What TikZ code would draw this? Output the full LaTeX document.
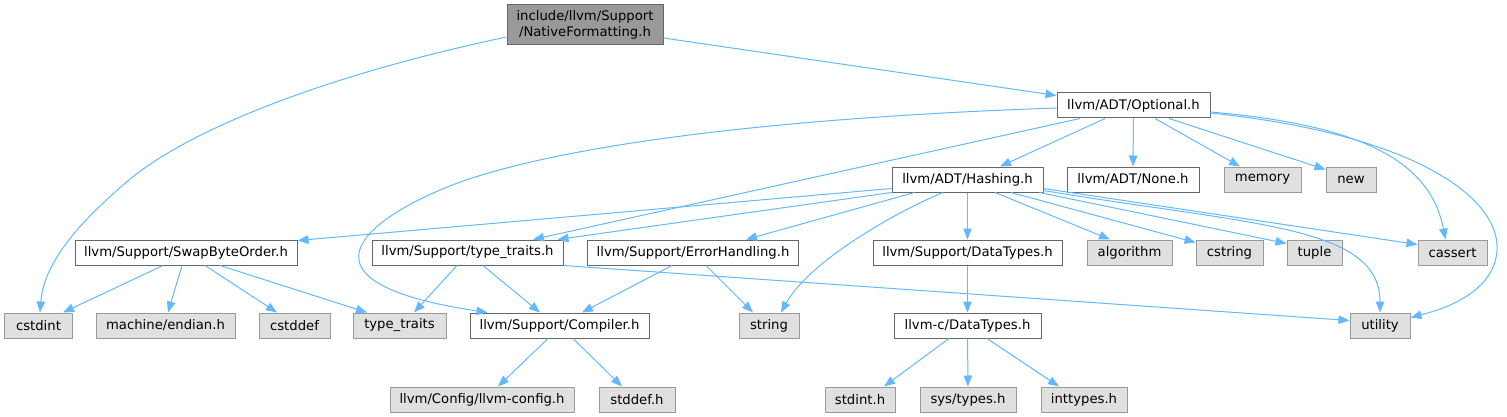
\documentclass[tikz,border=0pt]{standalone}
\usepackage{fontspec}
\setmainfont{DejaVu Sans}
\usetikzlibrary{arrows.meta}

\begin{document}
\begin{tikzpicture}[x=1pt, y=-1pt,
    font=\fontsize{13.2}{15.5}\selectfont,
    every node/.style={inner sep=0pt, minimum height=25pt},
    mainnode/.style={draw=boxgray, fill=mainfill, line width=1pt},
    usernode/.style={draw=boxgray, fill=white, line width=1pt},
    sysnode/.style={draw=sysgray, fill=sysfill, line width=1pt},
    incl/.style={draw=edgeblue, line width=1pt, -{Triangle[length=11pt,width=8.5pt]}}]

    % 色の設定
    \definecolor{edgeblue}{HTML}{63B8FF}
    \definecolor{boxgray}{HTML}{666666}
    \definecolor{mainfill}{HTML}{999999}
    \definecolor{sysgray}{HTML}{999999}
    \definecolor{sysfill}{HTML}{E0E0E0}
    \useasboundingbox (0,0) rectangle (1507,417);

    % ヘッダ（上から順に）
    \node[mainnode, minimum width=156pt, minimum height=40pt, align=center] (nf) at (585,25) {include/llvm/Support\\/NativeFormatting.h};
    \node[usernode, minimum width=153pt] (opt) at (1133.5,105.5) {llvm/ADT/Optional.h};

    \node[usernode, minimum width=151pt] (hash) at (967.5,179.5) {llvm/ADT/Hashing.h};
    \node[usernode, minimum width=132pt] (none) at (1133,179.5) {llvm/ADT/None.h};
    \node[sysnode, minimum width=77pt] (memory) at (1262.5,179.5) {memory};
    \node[sysnode, minimum width=50pt] (new) at (1351,179.5) {new};

    \node[usernode, minimum width=222pt] (swap) at (186,252.5) {llvm/Support/SwapByteOrder.h};
    \node[usernode, minimum width=191pt] (tt) at (467.5,252.5) {llvm/Support/type\_traits.h};
    \node[usernode, minimum width=211pt] (err) at (693,252.5) {llvm/Support/ErrorHandling.h};
    \node[usernode, minimum width=189pt] (sdt) at (967.5,252.5) {llvm/Support/DataTypes.h};
    \node[sysnode, minimum width=85pt] (algorithm) at (1129.5,252.5) {algorithm};
    \node[sysnode, minimum width=67pt] (cstring) at (1229.5,252.5) {cstring};
    \node[sysnode, minimum width=55pt] (tuple) at (1314.5,252.5) {tuple};
    \node[sysnode, minimum width=69pt] (cassert) at (1452.5,252.5) {cassert};

    \node[sysnode, minimum width=68pt] (cstdint) at (38.5,325.5) {cstdint};
    \node[sysnode, minimum width=139pt] (endian) at (165.5,325.5) {machine/endian.h};
    \node[sysnode, minimum width=71pt] (cstddef) at (294.5,325.5) {cstddef};
    \node[sysnode, minimum width=93pt] (typetraits) at (399.5,325.5) {type\_traits};
    \node[usernode, minimum width=179pt] (compiler) at (559.5,325.5) {llvm/Support/Compiler.h};
    \node[sysnode, minimum width=60pt] (string) at (769,325.5) {string};
    \node[usernode, minimum width=147pt] (cdt) at (967.5,325.5) {llvm-c/DataTypes.h};
    \node[sysnode, minimum width=60pt] (utility) at (1380,325.5) {utility};

    \node[sysnode, minimum width=184pt] (config) at (482,399.5) {llvm/Config/llvm-config.h};
    \node[sysnode, minimum width=76pt] (stddef) at (637,399.5) {stddef.h};
    \node[sysnode, minimum width=70pt] (stdint) at (860,399.5) {stdint.h};
    \node[sysnode, minimum width=96pt] (systypes) at (968,399.5) {sys/types.h};
    \node[sysnode, minimum width=86pt] (inttypes) at (1084,399.5) {inttypes.h};

    % NativeFormatting.h からの矢印
    \draw[incl] ([yshift=-12pt]nf.west) .. controls (340,72) and (195,125) .. (129,180)
        .. controls (84,218) and (44,260) .. ([xshift=1.5pt]cstdint.north);
    \draw[incl] ([yshift=-13pt]nf.east) -- ([yshift=-3pt]opt.north west);

    % Optional.h からの矢印
    \draw[incl] ([yshift=-2.5pt]opt.west) .. controls (850,115) and (600,135) .. (466,180)
        .. controls (380,210) and (270,280) .. ([xshift=18pt]compiler.north west);
    \draw[incl] ([xshift=-53.5pt]opt.south) -- ([xshift=65.5pt]tt.north);
    \draw[incl] ([xshift=-28.5pt]opt.south) -- ([xshift=32.5pt]hash.north);
    \draw[incl] ([xshift=21.5pt]opt.south) -- ([xshift=-22.5pt]memory.north);
    \draw[incl] ([xshift=35.5pt]opt.south) -- ([yshift=-3pt]new.north west);
    \draw[incl] ([yshift=-6.5pt]opt.east) .. controls (1360,125) and (1430,160) .. ([xshift=-7pt]cassert.north);
    \draw[incl] ([yshift=-7.5pt]opt.east) .. controls (1420,135) and (1500,200) .. (1497,250)
        .. controls (1495,285) and (1460,305) .. ([yshift=-5pt]utility.north east);

    % Hashing.h からの矢印
    \draw[incl] ([yshift=4pt]hash.south west) -- ([yshift=-1pt]swap.north east);
    \draw[incl] (hash.south west) -- ([xshift=-6pt]tt.north east);
    \draw[incl] ([xshift=23pt]hash.south west) -- ([xshift=53pt]err.north);
    \draw[incl] ([xshift=-24.5pt]hash.south) .. controls (900,210) and (810,260) .. ([xshift=12pt]string.north);
    \draw[incl] ([xshift=27.5pt]hash.south) -- ([xshift=-19.5pt]algorithm.north);
    \draw[incl] ([xshift=43.5pt]hash.south) -- ([yshift=-3pt]cstring.north west);
    \draw[incl] ([xshift=-4pt]hash.south east) -- ([yshift=-4pt]tuple.north west);
    \draw[incl] ([yshift=2pt]hash.south east) .. controls (1250,225) and (1380,225) .. (utility.north);
    \draw[incl] ([yshift=4pt]hash.south east) -- ([yshift=-5pt]cassert.north west);

    % 真下へ向かう矢印
    \foreach \a/\b in {opt/none, hash/sdt, sdt/cdt, cdt/systypes}
        \draw[incl] (\a) -- (\b);

    % SwapByteOrder.h からの矢印
    \draw[incl] ([xshift=-23pt]swap.south) -- ([xshift=24.5pt]cstdint.north);
    \draw[incl] ([xshift=-4pt]swap.south) -- ([xshift=2.5pt]endian.north);
    \draw[incl] ([xshift=19pt]swap.south) -- ([xshift=-17.5pt]cstddef.north);
    \draw[incl] ([xshift=34pt]swap.south) -- ([xshift=-32.5pt]typetraits.north);

    % type_traits.h と ErrorHandling.h からの矢印
    \draw[incl] ([xshift=-10.5pt]tt.south) -- ([xshift=14.5pt]typetraits.north);
    \draw[incl] ([xshift=15.5pt]tt.south) -- ([xshift=-19.5pt]compiler.north);
    \draw[incl] (tt.south east) -- ([yshift=5pt]utility.west);
    \draw[incl] ([xshift=-21pt]err.south) -- ([xshift=22.5pt]compiler.north);
    \draw[incl] ([xshift=13pt]err.south) -- ([xshift=-16pt]string.north);

    % 最下段への矢印
    \draw[incl] ([xshift=-11.5pt]compiler.south) -- ([xshift=16pt]config.north);
    \draw[incl] ([xshift=13.5pt]compiler.south) -- ([xshift=-15pt]stddef.north);
    \draw[incl] ([xshift=-18.5pt]cdt.south) -- ([xshift=24pt]stdint.north);
    \draw[incl] ([xshift=19.5pt]cdt.south) -- ([xshift=-25pt]inttypes.north);

\end{tikzpicture}
\end{document}
